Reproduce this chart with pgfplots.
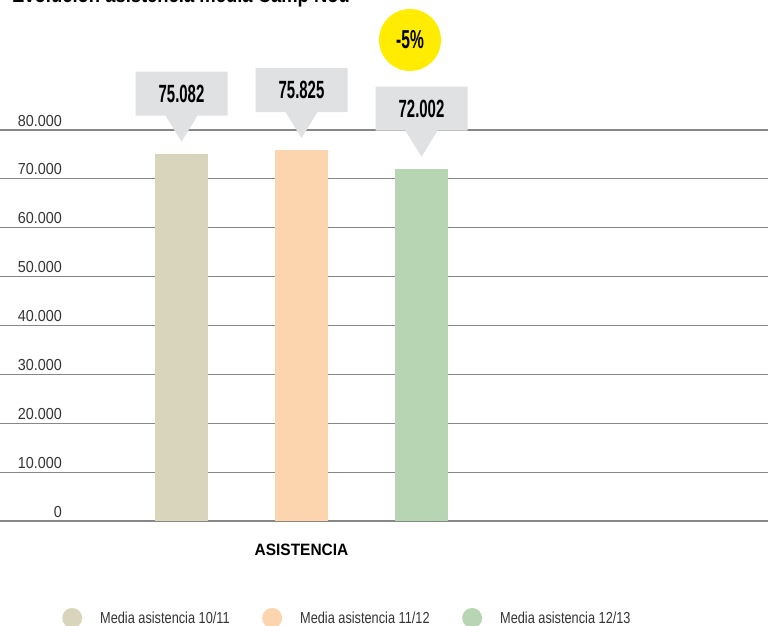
\documentclass[border=0pt]{standalone}
\usepackage{fontspec}
\setmainfont{Liberation Sans}
\usepackage{graphicx}
\usepackage{pgfplots}
\pgfplotsset{compat=1.18}
\usetikzlibrary{shapes.callouts}
\definecolor{cBeige}{RGB}{217,213,188}
\definecolor{cPeach}{RGB}{252,212,174}
\definecolor{cGreen}{RGB}{183,213,179}
\definecolor{cCallout}{RGB}{224,225,227}
\definecolor{cGrid}{RGB}{135,135,135}
\definecolor{cText}{RGB}{51,51,51}
\definecolor{cYellow}{RGB}{255,236,0}
\newcommand\legtext[1]{\makebox[160bp][l]{\scalebox{0.8}[1]{#1}}}
\begin{document}
\begin{tikzpicture}
\useasboundingbox (0bp,0bp) rectangle (768bp,626bp);
\begin{axis}[
  at={(0bp,105bp)}, anchor=south west,
  scale only axis, width=768bp, height=391bp,
  xmin=-0.5125, xmax=5.8875, ymin=0, ymax=80000,
  clip=false,
  axis line style={draw=none},
  ytick={0,10000,...,80000},
  ymajorgrids,
  major grid style={color=cGrid, line width=1.1bp},
  xtick={2}, xticklabels={\scalebox{0.94}[1]{ASISTENCIA}},
  major tick length=0pt,
  scaled y ticks=false,
  /pgf/number format/1000 sep={.},
  /pgf/number format/assume math mode=true,
  yticklabel={\scalebox{0.9}[1]{\pgfmathprintnumber{\tick}}},
  yticklabel style={anchor=base east, inner sep=0pt, xshift=62bp, yshift=4bp,
    font=\fontsize{16}{18}\selectfont, text=cText},
  xticklabel style={anchor=base, inner sep=0pt, yshift=-34bp,
    font=\bfseries\fontsize{16.5}{18}\selectfont, text=black},
  nodes near coords={\scalebox{0.6}[1]{\pgfmathprintnumber{\pgfplotspointmeta}}},
  every node near coord/.append style={
    shape=rectangle callout, fill=cCallout, anchor=pointer,
    minimum width=92bp, minimum height=44bp, inner sep=0pt,
    callout relative pointer={(0bp,-26bp)}, callout pointer width=32bp,
    yshift=12bp, font=\bfseries\fontsize{25}{26}\selectfont, text=black},
  legend style={at={(axis description cs:0,0)}, anchor=west,
    xshift=62bp, yshift=-97bp, draw=none, fill=none, inner sep=0pt,
    font=\fontsize{16}{18}\selectfont, text=cText,
    legend columns=3,
    /tikz/every even column/.append style={column sep=0bp},
    /tikz/every odd column/.append style={column sep=16bp}},
  legend cell align=left,
  legend image code/.code={\fill[#1] (10bp,0bp) circle (10bp);},
]
\addplot[ybar, bar width=53bp, bar shift=0pt, fill=cBeige, draw=none] coordinates {(1,75082)};
\addplot[ybar, bar width=53bp, bar shift=0pt, fill=cPeach, draw=none] coordinates {(2,75825)};
\addplot[ybar, bar width=53bp, bar shift=0pt, fill=cGreen, draw=none] coordinates {(3,72002)};
\legend{\legtext{Media asistencia 10/11}, \legtext{Media asistencia 11/12}, \legtext{Media asistencia 12/13}}
\end{axis}
\node[circle, fill=cYellow, minimum size=62bp, inner sep=0pt, font=\bfseries\fontsize{26}{28}\selectfont] at (410bp,586bp) {\scalebox{0.6}[1]{-5\%}};
\node[anchor=base west, inner sep=0pt, font=\bfseries\fontsize{22}{24}\selectfont] at (12bp,623.5bp) {\smash{\scalebox{0.84}[1]{Evolución asistencia media Camp Nou}}};
\end{tikzpicture}
\end{document}
